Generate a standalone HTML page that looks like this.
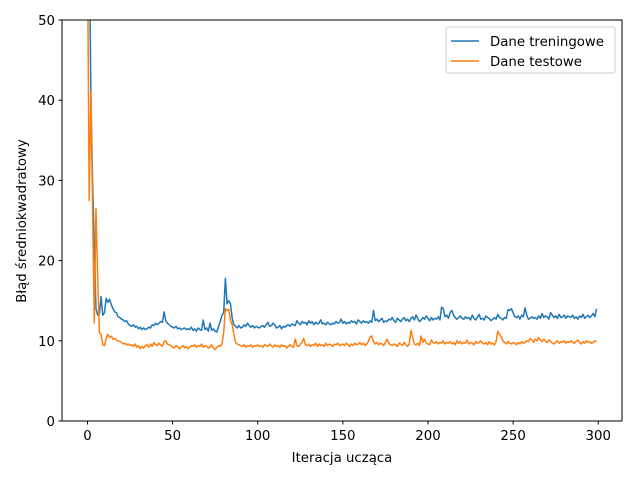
<!DOCTYPE html>
<html><head><meta charset="utf-8">
<style>
html,body{margin:0;padding:0;background:#fff;}
svg text{font-family:"DejaVu Sans","Liberation Sans",sans-serif;font-size:13.3px;fill:#000;}
</style></head>
<body>
<svg id="chart" width="640" height="480" xmlns="http://www.w3.org/2000/svg">
<rect x="0" y="0" width="640" height="480" fill="#fff"/>
<g id="plot"></g>
<rect x="62" y="20" width="560" height="401" fill="none" stroke="#000" stroke-width="1"/>
<g id="axes"></g>
<text x="342" y="462" text-anchor="middle">Iteracja ucząca</text>
<text transform="translate(26,221) rotate(-90)" text-anchor="middle">Błąd średniokwadratowy</text>
<g>
<rect x="446" y="27" width="169" height="46" rx="2" fill="#fff" fill-opacity="0.8" stroke="#ccc"/>
<line x1="451" y1="41" x2="479" y2="41" stroke="#1f77b4" stroke-width="1.5"/>
<text x="490" y="46">Dane treningowe</text>
<line x1="451" y1="61" x2="479" y2="61" stroke="#ff7f0e" stroke-width="1.5"/>
<text x="490" y="66">Dane testowe</text>
</g>
</svg>
<script>
const xTicks=[0,50,100,150,200,250,300];
const yTicks=[0,10,20,30,40,50];
const trainRaw=[80,60,41,30,22,14,13.2,13.3,15.5,13.2,13.5,15.3,14.8,15.2,14.5,14,13.6,13.5,13.0,12.9,12.7,12.6,12.4,12.5,12.1,11.9,11.8,12.0,11.7,11.8,11.5,11.7,11.4,11.6,11.4,11.5,11.7,11.6,12.0,11.9,12.2,12.0,12.2,12.4,12.3,13.6,12.5,12.2,12.0,11.8,11.7,11.6,11.8,11.5,11.6,11.4,11.5,11.6,11.4,11.5,11.4,11.7,11.3,11.5,11.2,11.6,11.4,11.3,12.6,11.4,11.6,11.2,12.2,11.3,11.5,11.2,11.1,11.8,12.4,13.2,13.5,17.8,14.6,15.0,14.6,12.8,12.0,11.8,11.6,11.9,11.6,11.7,12.0,11.8,12.2,11.9,11.7,11.9,11.6,11.8,11.7,11.6,11.8,11.9,11.7,12.0,12.3,11.8,11.9,12.2,12.0,11.6,11.7,11.9,11.5,11.8,11.7,11.9,12.0,11.8,12.1,12.0,11.9,12.5,12.2,12.0,12.4,12.2,12.3,12.0,12.5,12.2,12.4,12.0,12.3,12.1,12.2,12.6,12.1,12.2,12.0,12.3,12.1,12.0,12.2,12.1,12.4,12.2,12.3,12.7,12.2,12.4,12.1,12.3,12.2,12.5,12.3,12.4,12.1,12.6,12.4,12.2,12.5,12.3,12.4,12.2,12.5,12.3,13.8,12.5,12.7,12.4,12.6,12.8,12.3,12.5,12.4,12.7,12.6,12.9,12.5,12.3,12.8,12.6,12.4,12.7,12.9,12.5,12.7,12.4,12.8,13.0,12.6,13.2,12.8,12.4,12.6,12.9,12.7,13.1,12.8,12.5,12.9,12.6,12.8,12.7,13.0,12.6,14.2,14.0,13.0,13.2,12.8,13.5,13.8,13.2,12.9,12.7,12.9,13.1,12.8,12.7,13.0,12.8,12.9,12.6,13.2,12.8,12.6,12.9,13.3,12.7,12.8,12.6,13.1,12.9,12.8,12.5,12.7,12.9,12.7,13.3,12.9,12.8,12.6,12.9,12.8,13.9,13.8,14.0,13.5,13.0,12.9,13.1,12.7,13.2,13.0,14.1,13.2,12.7,12.8,13.0,12.8,12.9,12.7,13.1,12.8,13.4,12.9,13.1,13.0,12.7,13.5,13.2,12.9,13.1,12.8,13.3,12.9,13.0,13.2,12.8,13.1,13.0,12.9,13.2,12.8,13.0,12.7,13.1,12.9,13.3,12.8,13.0,13.2,12.9,13.1,13.4,13.0,14.0,13.2,12.9,12.8,13.0,12.9,12.8,12.9];
const testRaw=[60,27.5,41,26.5,12.2,26.5,18,11,10.8,9.5,9.4,10.3,10.8,10.4,10.6,10.2,10.3,10.1,10.0,9.9,9.8,9.6,9.7,9.5,9.6,9.4,9.5,9.3,9.6,9.2,9.4,9.0,9.3,9.1,9.4,9.5,9.2,9.6,9.3,9.8,9.5,9.4,9.7,9.5,9.3,9.9,10.0,9.6,9.5,9.4,9.2,9.1,9.4,9.3,9.0,9.2,9.4,9.1,9.3,9.0,9.2,9.4,9.3,9.5,9.2,9.4,9.3,9.6,9.2,9.4,9.3,9.1,9.2,9.5,9.1,8.9,9.2,9.4,9.3,9.6,11.0,14.0,13.8,13.9,12.5,12.0,10.8,9.8,9.6,9.5,9.4,9.3,9.5,9.2,9.4,9.3,9.5,9.2,9.4,9.3,9.5,9.3,9.4,9.2,9.5,9.4,9.3,9.6,9.4,9.2,9.5,9.3,9.4,9.2,9.5,9.3,9.4,9.1,9.3,9.5,9.3,9.2,10.2,9.4,9.3,9.6,9.8,10.3,9.5,9.4,9.6,9.3,9.5,9.4,9.7,9.3,9.6,9.4,9.5,9.3,9.7,9.4,9.6,9.5,9.3,9.6,9.5,9.7,9.4,9.5,9.6,9.4,9.7,9.5,9.3,9.6,9.4,9.7,9.5,9.6,9.8,9.5,9.7,9.4,9.6,9.9,10.5,10.6,9.9,9.6,9.8,9.5,9.7,9.6,9.4,9.8,10.2,9.7,9.5,9.4,9.6,9.5,9.3,9.7,9.6,9.4,9.8,9.5,9.3,9.6,11.3,10.4,9.6,9.5,9.7,9.4,10.6,9.8,10.2,9.7,9.6,9.5,10.1,9.8,9.7,9.9,9.6,9.8,9.7,10.0,9.6,9.8,9.7,9.9,9.6,9.8,9.5,10.0,9.7,9.9,9.6,9.8,9.7,10.1,9.6,9.8,9.7,9.5,9.9,9.7,9.8,10.0,9.7,9.6,9.8,9.5,9.9,9.6,9.7,9.5,9.9,11.2,10.8,10.5,10.0,9.8,9.6,9.9,9.7,9.6,9.8,9.7,9.5,9.8,9.6,9.9,9.7,9.8,10.0,9.9,10.3,10.1,9.8,10.2,10.0,10.4,10.1,9.9,10.2,10.0,9.8,10.1,9.9,9.7,9.6,9.8,10.0,9.7,9.9,9.8,10.0,9.7,9.9,9.8,10.0,9.8,9.7,9.9,10.1,9.8,9.6,9.9,9.7,10.0,9.8,9.9,9.7,9.8,10.0,9.9,9.8,9.9,9.7,9.9,9.8];
const train=trainRaw.slice(0,300);
const test=testRaw.slice(0,300);
const X0=-14.95,X1=313.95,Y0=0,Y1=50;
const L=62,R=622,T=20,B=421;
function sx(v){return L+(v-X0)/(X1-X0)*(R-L);}
function sy(v){return B-(v-Y0)/(Y1-Y0)*(B-T);}
const NS="http://www.w3.org/2000/svg";
const plot=document.getElementById('plot');
const clip=document.createElementNS(NS,'clipPath');clip.setAttribute('id','cp');
const cr=document.createElementNS(NS,'rect');cr.setAttribute('x',L);cr.setAttribute('y',T);cr.setAttribute('width',R-L);cr.setAttribute('height',B-T);
clip.appendChild(cr);plot.appendChild(clip);
function drawLine(data,color,name){
  const p=document.createElementNS(NS,'path');
  p.setAttribute('d',data.map((v,i)=>(i?'L':'M')+sx(i).toFixed(2)+' '+sy(v).toFixed(2)).join(''));
  p.setAttribute('fill','none');p.setAttribute('stroke',color);p.setAttribute('stroke-width','1.5');
  p.setAttribute('stroke-linejoin','round');p.setAttribute('clip-path','url(#cp)');
  
  
  plot.appendChild(p);
}
drawLine(train,'#1f77b4','train-series-line');
drawLine(test,'#ff7f0e','test-series-line');
const axes=document.getElementById('axes');
xTicks.forEach(t=>{
  const x=sx(t);
  const l=document.createElementNS(NS,'line');
  l.setAttribute('x1',x);l.setAttribute('x2',x);l.setAttribute('y1',B);l.setAttribute('y2',B+3.5);l.setAttribute('stroke','#000');
  
  
  axes.appendChild(l);
  const tx=document.createElementNS(NS,'text');
  tx.setAttribute('x',x);tx.setAttribute('y',B+19);tx.setAttribute('text-anchor','middle');tx.textContent=t;
  
  
  axes.appendChild(tx);
});
yTicks.forEach(t=>{
  const y=sy(t);
  const l=document.createElementNS(NS,'line');
  l.setAttribute('x1',L-3.5);l.setAttribute('x2',L);l.setAttribute('y1',y);l.setAttribute('y2',y);l.setAttribute('stroke','#000');
  
  
  axes.appendChild(l);
  const tx=document.createElementNS(NS,'text');
  tx.setAttribute('x',L-7);tx.setAttribute('y',y+5);tx.setAttribute('text-anchor','end');tx.textContent=t;
  
  
  axes.appendChild(tx);
});
</script>
</body></html>
